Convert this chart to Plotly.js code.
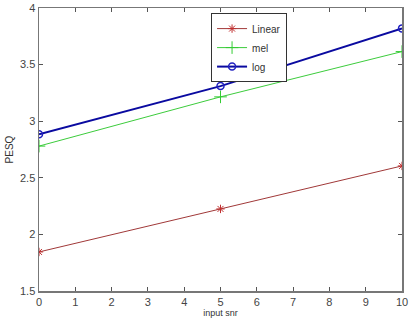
<!DOCTYPE html>
<html><head><meta charset="utf-8">
<script src="https://cdn.plot.ly/plotly-3.0.1.min.js"></script>
<style>html,body{margin:0;padding:0;background:#fff;}#c{width:416px;height:323px;}</style>
</head><body><div id="c"></div>
<script>
const snr = [0, 5, 10];
const linearVals = [1.845, 2.225, 2.605];
const melVals = [2.78, 3.215, 3.615];
const logVals = [2.885, 3.31, 3.82];
const xTicks = [0,1,2,3,4,5,6,7,8,9,10];
const yTicks = [1.5,2,2.5,3,3.5,4];

const traces = [
  {x: snr, y: linearVals, name: 'Linear', mode: 'lines+markers',
   line: {color: '#a03838', width: 1},
   marker: {symbol: 'asterisk-open', size: 7, color: '#c03030', line: {color: '#c03030', width: 1}}},
  {x: snr, y: melVals, name: 'mel', mode: 'lines+markers',
   line: {color: '#3ccc3c', width: 1},
   marker: {symbol: 'cross-thin-open', size: 9, color: '#33cc33', line: {color: '#33cc33', width: 1}}},
  {x: snr, y: logVals, name: 'log', mode: 'lines+markers',
   line: {color: '#0a0aa0', width: 2},
   marker: {symbol: 'circle-open', size: 7, color: '#2020c0', line: {color: '#2020c0', width: 1.5}}}
];

const axisCommon = {
  showline: true, linecolor: '#777', linewidth: 1.5, mirror: 'ticks',
  ticks: 'inside', ticklen: 4, tickcolor: '#555',
  showgrid: false, zeroline: false,
  tickfont: {family: 'Liberation Sans, Arial, sans-serif', size: 11, color: '#444'}
};

const layout = {
  width: 416, height: 323,
  margin: {l: 39, r: 14, t: 8, b: 32},
  paper_bgcolor: '#fff', plot_bgcolor: '#fff',
  showlegend: true,
  legend: {x: 0.474, y: 0.982, xanchor: 'left', yanchor: 'top',
    bordercolor: '#333', borderwidth: 1, bgcolor: '#fff',
    font: {family: 'Liberation Sans, Arial, sans-serif', size: 10, color: '#333'},
    tracegroupgap: 0, itemwidth: 30},
  xaxis: Object.assign({}, axisCommon, {range: [0, 10], tickvals: xTicks,
    title: {text: 'input snr', standoff: 2, font: {family: 'Liberation Sans, Arial, sans-serif', size: 9, color: '#333'}}}),
  yaxis: Object.assign({}, axisCommon, {range: [1.5, 4], tickvals: yTicks,
    title: {text: 'PESQ', standoff: 4, font: {family: 'Liberation Sans, Arial, sans-serif', size: 10, color: '#333'}}})
};

Plotly.newPlot('c', traces, layout, {displayModeBar: false, staticPlot: true});
</script></body></html>
